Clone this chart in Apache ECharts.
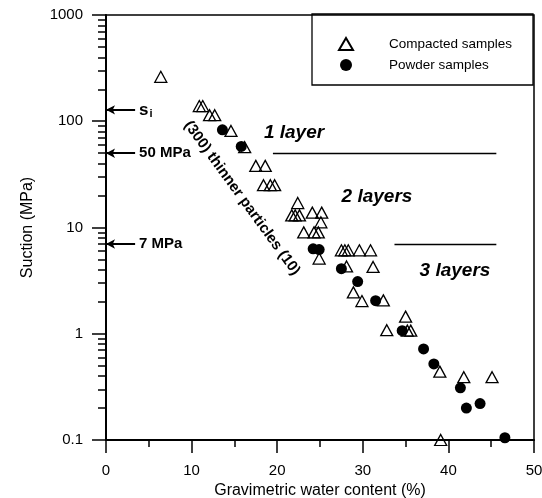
<!DOCTYPE html>
<html><head><meta charset="utf-8">
<script src="https://cdn.jsdelivr.net/npm/echarts@6/dist/echarts.min.js"></script>
<style>html,body{margin:0;padding:0;background:#fff}#c{width:542px;height:498px}</style>
</head><body><div id="c"></div>
<script>
// ---- data ----
const compactedX = [6.4, 10.9, 11.3, 12.1, 12.7, 14.6, 16.2, 17.5, 18.6, 18.4, 19.2, 19.7, 22.4, 21.7, 22.1, 22.6, 24.1, 25.2, 25.1, 23.1, 24.3, 24.8, 24.9, 27.5, 27.9, 28.3, 29.6, 30.9, 28.1, 31.2, 28.9, 29.9, 32.4, 35.0, 32.8, 35.2, 35.6, 39.0, 41.8, 45.1, 39.1];
const compactedY = [262, 139, 139, 114, 114, 81, 57, 38, 38, 25, 25, 25, 17, 13, 13, 13, 13.8, 13.8, 11.2, 9, 9, 9, 5.1, 6.1, 6.1, 6.1, 6.1, 6.1, 4.3, 4.25, 2.45, 2.03, 2.06, 1.45, 1.08, 1.07, 1.07, 0.44, 0.39, 0.39, 0.1];
const powderX = [13.6, 15.8, 24.2, 24.9, 27.5, 29.4, 31.5, 34.6, 37.1, 38.3, 41.4, 42.1, 43.7, 46.6];
const powderY = [83, 58, 6.3, 6.2, 4.1, 3.1, 2.05, 1.07, 0.72, 0.52, 0.31, 0.2, 0.22, 0.105];
const seriesNames = ['Compacted samples', 'Powder samples'];
const xTicks = [0, 10, 20, 30, 40, 50];
const yMajorTicks = [0.1, 1, 10, 100, 1000];
const yMinorTicks = [0.2,0.3,0.4,0.5,0.6,0.7,0.8,0.9, 2,3,4,5,6,7,8,9, 20,30,40,50,60,70,80,90, 200,300,400,500,600,700,800,900];
const arrowValues = [128, 50, 7];
const arrowLabels = ['si', '50 MPa', '7 MPa'];
const arrowLength = 3.4;
const layerLines = [[19.5, 45.6, 50], [33.7, 45.6, 7]];
const layerTexts = ['1 layer', '2 layers', '3 layers'];
const slopeText = '(300) thinner particles (10)';

// ---- chart ----
const FONT = "'Liberation Sans', Arial, sans-serif";
const zip = (xs, ys) => xs.map((x, i) => [x, ys[i]]);
const chart = echarts.init(document.getElementById('c'), null, {renderer: 'canvas'});
const option = {
  animation: false,
  backgroundColor: '#fff',
  textStyle: {fontFamily: FONT},
  grid: {left: 106, right: 8, top: 15, bottom: 58, show: true, borderColor: '#000', borderWidth: 1.5,
    containLabel: false, outerBoundsMode: 'none'},
  legend: {
    data: seriesNames, orient: 'vertical', left: 333, top: 32,
    itemWidth: 14, itemHeight: 12, itemGap: 7,
    textStyle: {fontFamily: FONT, fontSize: 13.5, color: '#000', padding: [0, 0, 0, 31]}
  },
  xAxis: {
    type: 'value', min: 0, max: 50, interval: 10,
    name: 'Gravimetric water content (%)', nameLocation: 'middle', nameGap: 42,
    nameTextStyle: {fontFamily: FONT, fontSize: 16, color: '#000'},
    axisLine: {lineStyle: {color: '#000', width: 2}},
    axisTick: {length: 13, lineStyle: {color: '#000', width: 1.5}},
    minorTick: {show: true, splitNumber: 2, length: 7, lineStyle: {color: '#000', width: 1.5}},
    axisLabel: {fontFamily: FONT, fontSize: 15, color: '#000', margin: 23, customValues: xTicks},
    splitLine: {show: false}
  },
  yAxis: [{
    type: 'log', logBase: 10, min: 0.1, max: 1000,
    name: 'Suction (MPa)', nameLocation: 'middle', nameRotate: 90, nameGap: 70,
    nameTextStyle: {fontFamily: FONT, fontSize: 16, color: '#000'},
    axisLine: {show: true, lineStyle: {color: '#000', width: 2}},
    axisTick: {show: true, length: 14, customValues: yMajorTicks, lineStyle: {color: '#000', width: 1.5}},
    axisLabel: {fontFamily: FONT, fontSize: 15, color: '#000', margin: 23, customValues: yMajorTicks,
      formatter: v => String(+(+v).toPrecision(3))},
    splitLine: {show: false}, minorTick: {show: false}
  }, {
    type: 'log', logBase: 10, min: 0.1, max: 1000, position: 'left', offset: 0,
    axisLine: {show: false},
    axisTick: {show: true, length: 8, customValues: yMinorTicks, lineStyle: {color: '#000', width: 1.5}},
    axisLabel: {show: false}, splitLine: {show: false}
  }],
  series: [{
    name: seriesNames[0], type: 'scatter', data: zip(compactedX, compactedY),
    symbol: 'triangle', symbolSize: [12, 11], z: 3,
    itemStyle: {color: 'rgba(255,255,255,0)', borderColor: '#000', borderWidth: 1.3, opacity: 1}
  }, {
    name: seriesNames[1], type: 'scatter', data: zip(powderX, powderY),
    symbol: 'circle', symbolSize: 11, z: 2, itemStyle: {color: '#000', opacity: 1}
  }, {
    type: 'line', data: [], silent: true,
    markLine: {
      silent: true, animation: false, symbol: ['arrow', 'none'], symbolSize: [7, 9],
      lineStyle: {color: '#000', width: 2, type: 'solid'},
      label: {show: true, position: 'end', distance: 4, color: '#000',
        formatter: p => p.name === 'si' ? '{s|s}{i|i}' : '{b|' + p.name + '}',
        rich: {
          s: {fontFamily: FONT, fontSize: 17, fontWeight: 'bold', color: '#000'},
          i: {fontFamily: FONT, fontSize: 11, fontWeight: 'bold', color: '#000', padding: [9, 0, 0, 1]},
          b: {fontFamily: FONT, fontSize: 15, fontWeight: 'bold', color: '#000'}
        }},
      data: arrowValues.map((v, i) => [{coord: [0, v], name: arrowLabels[i]}, {coord: [arrowLength, v]}])
    }
  }, {
    type: 'line', data: [], silent: true,
    markLine: {
      silent: true, animation: false, symbol: ['none', 'none'],
      lineStyle: {color: '#000', width: 1.3, type: 'solid'}, label: {show: false},
      data: layerLines.map(l => [{coord: [l[0], l[2]]}, {coord: [l[1], l[2]]}])
    }
  }],
  graphic: [
    {type: 'rect', shape: {x: 312, y: 14, width: 221, height: 71}, style: {fill: 'none', stroke: '#000', lineWidth: 1.3}, z: 10},
    {type: 'text', x: 294, y: 133, style: {text: layerTexts[0], font: 'italic bold 19px ' + FONT, fill: '#000', textAlign: 'center', textVerticalAlign: 'middle'}},
    {type: 'text', x: 377, y: 197, style: {text: layerTexts[1], font: 'italic bold 19px ' + FONT, fill: '#000', textAlign: 'center', textVerticalAlign: 'middle'}},
    {type: 'text', x: 455, y: 271, style: {text: layerTexts[2], font: 'italic bold 19px ' + FONT, fill: '#000', textAlign: 'center', textVerticalAlign: 'middle'}},
    {type: 'text', x: 242, y: 198, rotation: -54 * Math.PI / 180, style: {text: slopeText, font: 'bold 15px ' + FONT, fill: '#000', textAlign: 'center', textVerticalAlign: 'middle'}}
  ]
};
chart.setOption(option);
</script>
</body></html>
